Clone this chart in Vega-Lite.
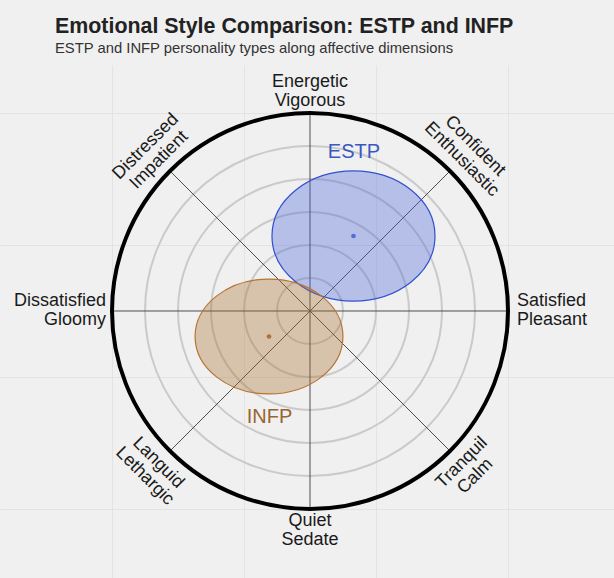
{
  "$schema": "https://vega.github.io/schema/vega-lite/v6.json",
  "autosize": "none",
  "width": 614,
  "height": 513,
  "padding": {"left": 0, "top": 65, "right": 0, "bottom": 0},
  "background": "#f0f0f0",
  "title": {
    "text": "Emotional Style Comparison: ESTP and INFP",
    "subtitle": "ESTP and INFP personality types along affective dimensions",
    "anchor": "start",
    "frame": "group",
    "dx": 55,
    "offset": 9,
    "font": "Liberation Sans",
    "fontSize": 21.4,
    "fontWeight": "bold",
    "color": "#222222",
    "subtitleFont": "Liberation Sans",
    "subtitleFontSize": 14.8,
    "subtitleColor": "#333333",
    "subtitlePadding": 4
  },
  "config": {
    "view": {"stroke": null},
    "axis": {"domain": false, "ticks": false, "labels": false, "title": null, "grid": true, "gridColor": "#e3e3e3", "gridWidth": 1}
  },
  "datasets": {
    "rings": [{"r": 1, "x": 0, "y": 0}, {"r": 2, "x": 0, "y": 0}, {"r": 3, "x": 0, "y": 0}, {"r": 4, "x": 0, "y": 0}, {"r": 5, "x": 0, "y": 0}],
    "boundary": [{"r": 6, "x": 0, "y": 0}],
    "spokes": [
      {"x": -6, "y": 0, "x2": 6, "y2": 0},
      {"x": 0, "y": -6, "x2": 0, "y2": 6},
      {"x": -4.2426, "y": -4.2426, "x2": 4.2426, "y2": 4.2426},
      {"x": -4.2426, "y": 4.2426, "x2": 4.2426, "y2": -4.2426}
    ],
    "types": [
      {"type": "ESTP", "x": 1.318, "y": 2.273, "rx": 2.47, "ry": 1.97, "lx": 1.333, "ly": 4.636},
      {"type": "INFP", "x": -1.242, "y": -0.773, "rx": 2.24, "ry": 1.74, "lx": -1.227, "ly": -3.394}
    ],
    "dims": [
      {"dir": "N", "label": "Energetic\nVigorous", "x": 0, "y": 6.94},
      {"dir": "NE", "label": "Confident\nEnthusiastic", "x": 5.0, "y": 5.0},
      {"dir": "E", "label": "Satisfied\nPleasant", "x": 6.27, "y": 0.288},
      {"dir": "SE", "label": "Tranquil\nCalm", "x": 4.6, "y": -4.6},
      {"dir": "S", "label": "Quiet\nSedate", "x": 0, "y": -6.36},
      {"dir": "SW", "label": "Languid\nLethargic", "x": -4.6, "y": -4.6},
      {"dir": "W", "label": "Dissatisfied\nGloomy", "x": -6.18, "y": 0.288},
      {"dir": "NW", "label": "Distressed\nImpatient", "x": -4.98, "y": 4.98}
    ]
  },
  "layer": [
    {
      "data": {"name": "rings"},
      "mark": {"type": "point", "shape": "circle", "filled": false, "stroke": "#cacaca", "strokeWidth": 2, "opacity": 1},
      "encoding": {
        "x": {"field": "x", "type": "quantitative", "scale": {"domain": [-9.394, 9.212], "nice": false, "zero": false}, "axis": {"values": [-6, -2, 2, 6]}},
        "y": {"field": "y", "type": "quantitative", "scale": {"domain": [-8.0909, 7.4545], "nice": false, "zero": false}, "axis": {"values": [-6, -2, 2, 6]}},
        "size": {"field": "r", "type": "quantitative", "scale": {"type": "pow", "exponent": 2, "domain": [0, 6], "range": [0, 156816]}, "legend": null}
      }
    },
    {
      "data": {"name": "spokes"},
      "mark": {"type": "rule", "color": "#4d4d4d", "strokeWidth": 1},
      "encoding": {
        "x": {"field": "x", "type": "quantitative"},
        "y": {"field": "y", "type": "quantitative"},
        "x2": {"field": "x2"},
        "y2": {"field": "y2"}
      }
    },
    {
      "data": {"name": "boundary"},
      "mark": {"type": "point", "shape": "circle", "filled": false, "stroke": "#000000", "strokeWidth": 4, "opacity": 1},
      "encoding": {
        "x": {"field": "x", "type": "quantitative"},
        "y": {"field": "y", "type": "quantitative"},
        "size": {"field": "r", "type": "quantitative", "legend": null}
      }
    },
    {
      "data": {"name": "types"},
      "mark": {"type": "point", "filled": true, "fillOpacity": 0.35, "strokeOpacity": 1, "strokeWidth": 1.2, "opacity": 1},
      "encoding": {
        "x": {"field": "x", "type": "quantitative"},
        "y": {"field": "y", "type": "quantitative"},
        "size": {"field": "rx", "type": "quantitative", "legend": null},
        "shape": {"field": "type", "type": "nominal", "scale": {"domain": ["ESTP", "INFP"], "range": ["M-1,0A1,0.798,0,1,1,1,0A1,0.798,0,1,1,-1,0Z", "M-1,0A1,0.777,0,1,1,1,0A1,0.777,0,1,1,-1,0Z"]}, "legend": null},
        "fill": {"field": "type", "type": "nominal", "scale": {"domain": ["ESTP", "INFP"], "range": ["#4a63d8", "#a86c2a"]}, "legend": null},
        "stroke": {"field": "type", "type": "nominal", "scale": {"domain": ["ESTP", "INFP"], "range": ["#3050d0", "#b87333"]}, "legend": null}
      }
    },
    {
      "data": {"name": "types"},
      "mark": {"type": "point", "shape": "circle", "filled": true, "size": 22, "opacity": 0.9},
      "encoding": {
        "x": {"field": "x", "type": "quantitative"},
        "y": {"field": "y", "type": "quantitative"},
        "fill": {"field": "type", "type": "nominal", "legend": null}
      }
    },
    {
      "data": {"name": "types"},
      "mark": {"type": "text", "font": "Liberation Sans", "fontSize": 20, "align": "center", "baseline": "alphabetic"},
      "encoding": {
        "x": {"field": "lx", "type": "quantitative"},
        "y": {"field": "ly", "type": "quantitative"},
        "text": {"field": "type", "type": "nominal"},
        "color": {"field": "type", "type": "nominal", "scale": {"domain": ["ESTP", "INFP"], "range": ["#3a58c2", "#9a6430"]}, "legend": null}
      }
    },
    {
      "data": {"name": "dims"},
      "transform": [{"filter": {"field": "dir", "oneOf": ["N", "S"]}}],
      "mark": {"type": "text", "font": "Liberation Sans", "fontSize": 18, "lineHeight": 19, "lineBreak": "\n", "align": "center", "baseline": "middle", "fill": "#1a1a1a"},
      "encoding": {
        "x": {"field": "x", "type": "quantitative"},
        "y": {"field": "y", "type": "quantitative"},
        "text": {"field": "label", "type": "nominal"}
      }
    },
    {
      "data": {"name": "dims"},
      "transform": [{"filter": {"field": "dir", "equal": "E"}}],
      "mark": {"type": "text", "font": "Liberation Sans", "fontSize": 18, "lineHeight": 19, "lineBreak": "\n", "align": "left", "baseline": "middle", "fill": "#1a1a1a"},
      "encoding": {
        "x": {"field": "x", "type": "quantitative"},
        "y": {"field": "y", "type": "quantitative"},
        "text": {"field": "label", "type": "nominal"}
      }
    },
    {
      "data": {"name": "dims"},
      "transform": [{"filter": {"field": "dir", "equal": "W"}}],
      "mark": {"type": "text", "font": "Liberation Sans", "fontSize": 18, "lineHeight": 19, "lineBreak": "\n", "align": "right", "baseline": "middle", "fill": "#1a1a1a"},
      "encoding": {
        "x": {"field": "x", "type": "quantitative"},
        "y": {"field": "y", "type": "quantitative"},
        "text": {"field": "label", "type": "nominal"}
      }
    },
    {
      "data": {"name": "dims"},
      "transform": [{"filter": {"field": "dir", "oneOf": ["NE", "SW"]}}],
      "mark": {"type": "text", "font": "Liberation Sans", "fontSize": 18, "lineHeight": 19, "lineBreak": "\n", "align": "center", "baseline": "middle", "angle": 45, "fill": "#1a1a1a"},
      "encoding": {
        "x": {"field": "x", "type": "quantitative"},
        "y": {"field": "y", "type": "quantitative"},
        "text": {"field": "label", "type": "nominal"}
      }
    },
    {
      "data": {"name": "dims"},
      "transform": [{"filter": {"field": "dir", "oneOf": ["NW", "SE"]}}],
      "mark": {"type": "text", "font": "Liberation Sans", "fontSize": 18, "lineHeight": 19, "lineBreak": "\n", "align": "center", "baseline": "middle", "angle": -45, "fill": "#1a1a1a"},
      "encoding": {
        "x": {"field": "x", "type": "quantitative"},
        "y": {"field": "y", "type": "quantitative"},
        "text": {"field": "label", "type": "nominal"}
      }
    }
  ]
}
